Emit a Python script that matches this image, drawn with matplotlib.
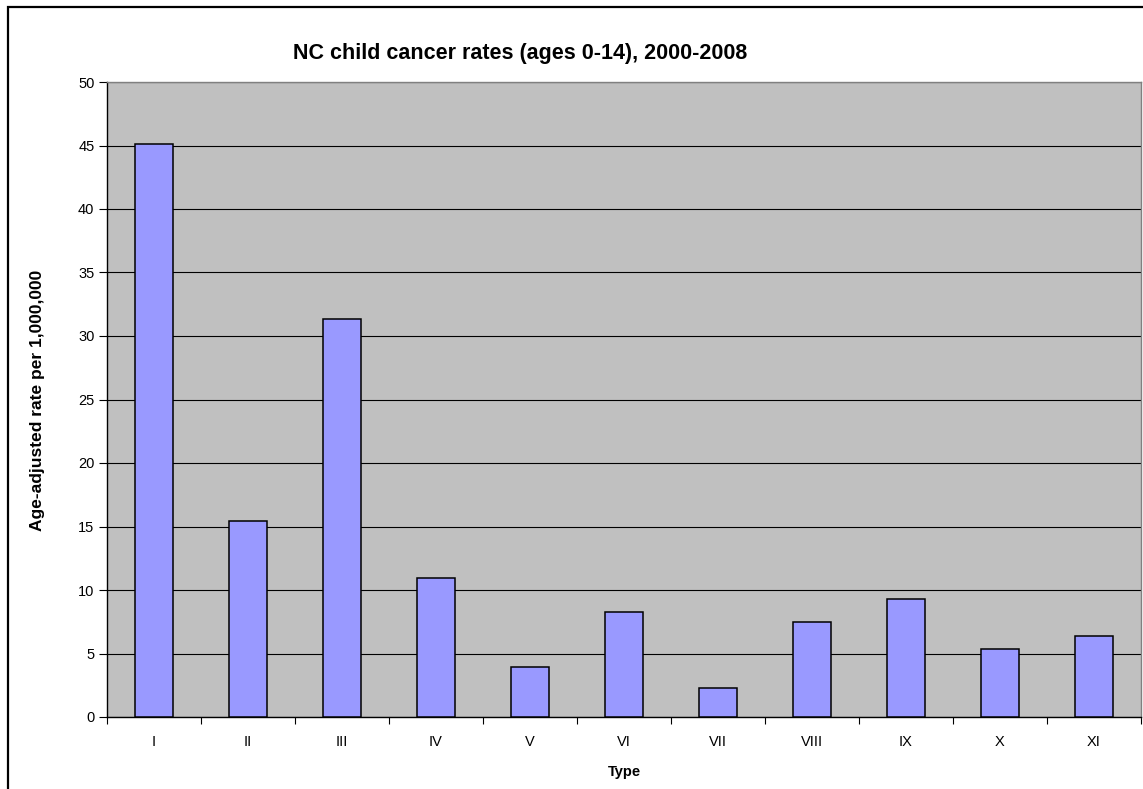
import matplotlib
matplotlib.use("Agg")
import matplotlib.pyplot as plt
from matplotlib.patches import Rectangle

categories = ["I", "II", "III", "IV", "V", "VI", "VII", "VIII", "IX", "X", "XI"]
rates = [45.1, 15.4, 31.3, 10.95, 3.95, 8.3, 2.25, 7.5, 9.3, 5.35, 6.35]
yticks = [0, 5, 10, 15, 20, 25, 30, 35, 40, 45, 50]

plt.rcParams['font.family'] = ['Liberation Sans', 'DejaVu Sans']

W, H = 1143, 789
fig = plt.figure(figsize=(W / 100, H / 100), dpi=100)
fig.patch.set_facecolor('white')

# chart border (left and top visible)
fig.add_artist(Rectangle((7.5 / W, -0.1), 1.2, 1.1 - 7.5 / H, transform=fig.transFigure,
                         fill=False, edgecolor='black', linewidth=1.6))

left, right, top, bottom = 107, 1141, 82, 717
ax = fig.add_axes([left / W, 1 - bottom / H, (right - left) / W, (bottom - top) / H])
ax.set_facecolor('#C0C0C0')

x = list(range(len(categories)))
ax.bar(x, rates, width=0.4, color='#9999FF', edgecolor='black', linewidth=1.1, zorder=3)

ax.set_xlim(-0.5, len(categories) - 0.5)
ax.set_ylim(0, 50)
ax.set_yticks(yticks)
ax.yaxis.grid(True, color='black', linewidth=0.8, zorder=1)
ax.set_axisbelow(True)

ax.set_xticks(x)
ax.set_xticklabels(categories)
ax.set_xticks([i - 0.5 for i in range(len(categories) + 1)], minor=True)
ax.tick_params(axis='x', which='major', length=0, pad=13, labelsize=10.5)
ax.tick_params(axis='x', which='minor', length=5, width=0.8, direction='out')
ax.tick_params(axis='y', length=6, width=0.8, direction='out', pad=3, labelsize=10.5)

for s in ['left', 'bottom']:
    ax.spines[s].set_color('black')
    ax.spines[s].set_linewidth(1.0)
for s in ['top', 'right']:
    ax.spines[s].set_color('#808080')
    ax.spines[s].set_linewidth(1.0)

fig.text(37.5 / W, 1 - 400 / H, 'Age-adjusted rate per 1,000,000', rotation=90,
         ha='center', va='center', fontsize=12.5, fontweight='bold')
fig.text(624 / W, 1 - 772 / H, 'Type', ha='center', va='center',
         fontsize=10.5, fontweight='bold')

fig.text(520 / W, 1 - 54 / H, 'NC child cancer rates (ages 0-14), 2000-2008',
         ha='center', va='center', fontsize=15.5, fontweight='bold')

fig.savefig('out.png', dpi=100)
